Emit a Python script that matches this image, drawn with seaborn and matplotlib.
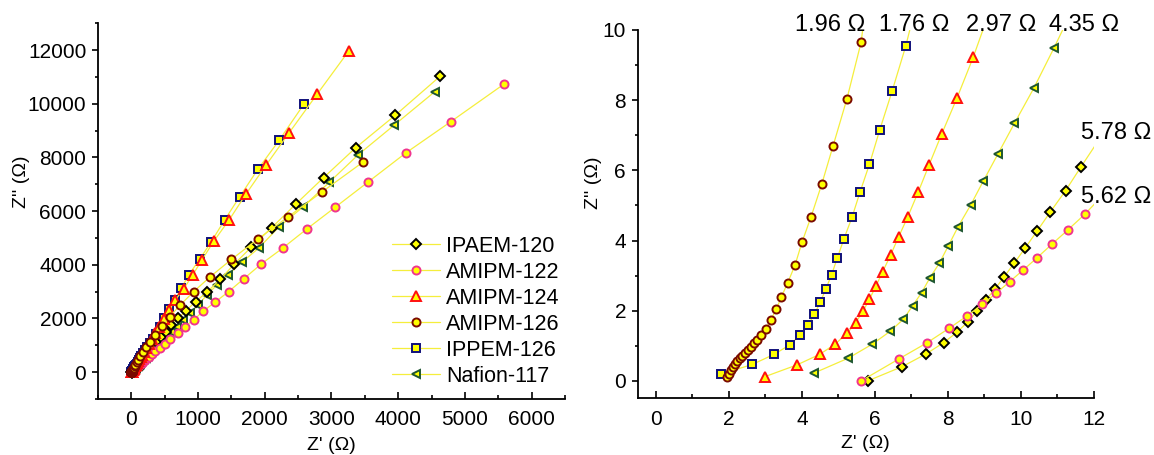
import matplotlib
matplotlib.use('Agg')
import matplotlib.pyplot as plt
from matplotlib.ticker import MultipleLocator
import pandas as pd
import seaborn as sns

# sample names (legend order)
samples = ['IPAEM-120', 'AMIPM-122', 'AMIPM-124', 'AMIPM-126', 'IPPEM-126', 'Nafion-117']
# intercept resistances shown in the zoomed panel
r_ohm = [5.78, 5.62, 2.97, 1.96, 1.76, 4.35]

# high frequency part (right panel)
ipaem120_re_hf = [5.80, 6.75, 7.40, 7.88, 8.25, 8.55, 8.79, 9.04, 9.29, 9.54, 9.81, 10.11, 10.44, 10.80, 11.22, 11.65]
ipaem120_im_hf = [0.00, 0.41, 0.77, 1.09, 1.39, 1.69, 1.98, 2.31, 2.62, 2.97, 3.35, 3.78, 4.27, 4.81, 5.42, 6.11]
amipm122_re_hf = [5.62, 6.66, 7.43, 8.03, 8.52, 8.94, 9.32, 9.69, 10.06, 10.44, 10.84, 11.28, 11.75]
amipm122_im_hf = [0.00, 0.63, 1.09, 1.50, 1.85, 2.18, 2.50, 2.83, 3.16, 3.51, 3.89, 4.30, 4.75]
amipm124_re_hf = [2.98, 3.87, 4.49, 4.91, 5.24, 5.47, 5.67, 5.85, 6.03, 6.21, 6.43, 6.65, 6.90, 7.18, 7.48, 7.83, 8.25, 8.69]
amipm124_im_hf = [0.12, 0.46, 0.76, 1.05, 1.36, 1.66, 1.98, 2.33, 2.71, 3.11, 3.59, 4.11, 4.68, 5.37, 6.15, 7.04, 8.07, 9.22]
amipm126_re_hf = [1.95, 2.00, 2.06, 2.11, 2.17, 2.23, 2.30, 2.37, 2.44, 2.52, 2.60, 2.69, 2.78, 2.89, 3.02,
                  3.15, 3.30, 3.43, 3.61, 3.81, 4.00, 4.25, 4.54, 4.85, 5.23, 5.62]
amipm126_im_hf = [0.11, 0.21, 0.31, 0.40, 0.49, 0.56, 0.64, 0.72, 0.80, 0.89, 0.98, 1.07, 1.17, 1.30, 1.49,
                  1.75, 2.04, 2.38, 2.80, 3.30, 3.95, 4.68, 5.60, 6.69, 8.03, 9.65]
ippem126_re_hf = [1.77, 2.64, 3.24, 3.67, 3.95, 4.17, 4.34, 4.50, 4.65, 4.81, 4.97, 5.15, 5.37, 5.59, 5.85, 6.13, 6.47, 6.84]
ippem126_im_hf = [0.19, 0.47, 0.76, 1.03, 1.31, 1.60, 1.90, 2.24, 2.61, 3.02, 3.51, 4.05, 4.66, 5.38, 6.18, 7.15, 8.26, 9.53]
nafion117_re_hf = [4.32, 5.27, 5.93, 6.41, 6.78, 7.03, 7.28, 7.50, 7.76, 8.01, 8.28, 8.62, 8.97, 9.37, 9.82, 10.35, 10.90]
nafion117_im_hf = [0.22, 0.65, 1.05, 1.41, 1.76, 2.14, 2.52, 2.93, 3.35, 3.85, 4.40, 5.01, 5.70, 6.47, 7.34, 8.34, 9.48]

# low frequency part (left panel)
ipaem120_re_lf = [12.6, 14, 16.5, 19.5, 23, 27, 32, 38, 45, 53, 63, 75, 88, 103, 122, 143, 168, 198, 232, 272,
                  320, 375, 440, 515, 600, 700, 819, 965, 1140, 1334, 1540, 1800, 2106, 2464, 2882, 3366, 3959, 4630]
ipaem120_im_lf = [7.6, 12, 22, 36, 51, 68, 88, 110, 136, 166, 200, 238, 280, 328, 385, 450, 525, 612, 712, 830,
                  965, 1120, 1300, 1510, 1740, 2000, 2293, 2630, 3000, 3462, 4020, 4665, 5390, 6260, 7250, 8370, 9580, 11032]
amipm122_re_lf = [12.7, 14, 16, 18.5, 22, 26, 31, 37, 44, 52, 61, 72, 85, 100, 117, 138, 162, 190, 223, 262,
                  308, 362, 425, 500, 585, 695, 799, 934, 1078, 1254, 1458, 1683, 1948, 2266, 2630, 3055, 3554, 4118, 4786, 5585]
amipm122_im_lf = [5.8, 8, 13, 20, 30, 42, 56, 72, 90, 111, 135, 162, 190, 222, 260, 304, 355, 414, 484, 565,
                  660, 770, 900, 1050, 1229, 1452, 1698, 1947, 2275, 2606, 3001, 3474, 4032, 4617, 5335, 6143, 7096, 8176, 9330, 10733]
amipm124_re_lf = [10.5, 13, 17, 22, 29, 37, 46, 56, 68, 82, 100, 117, 138, 162, 190, 222, 260, 304, 355, 415,
                  485, 565, 660, 784, 919, 1058, 1233, 1469, 1719, 2017, 2368, 2782, 3261]
amipm124_im_lf = [14.5, 24, 40, 62, 92, 128, 170, 215, 268, 330, 404, 475, 558, 655, 768, 900, 1055, 1235, 1445, 1690,
                  1970, 2300, 2692, 3100, 3620, 4181, 4870, 5683, 6639, 7706, 8930, 10350, 11975]
amipm126_re_lf = [7, 9, 12, 16, 21, 28, 37, 48, 62, 80, 104, 135, 175, 226, 286, 360, 460, 575, 735, 934,
                  1180, 1500, 1892, 2341, 2860, 3479]
amipm126_im_lf = [21, 34, 52, 72, 97, 130, 172, 222, 285, 365, 470, 600, 767, 953, 1139, 1389, 1724, 2070, 2506, 3001,
                  3550, 4200, 4952, 5771, 6720, 7841]
ippem126_re_lf = [7.8, 9.6, 12, 15, 19, 24, 30, 37, 45, 54, 65, 78, 93, 110, 130, 152, 178, 207, 240, 278,
                  320, 370, 425, 485, 560, 650, 750, 859, 1024, 1199, 1398, 1625, 1896, 2218, 2590]
ippem126_im_lf = [13.5, 20, 30, 44, 62, 84, 110, 140, 175, 214, 258, 310, 368, 435, 512, 598, 700, 812, 940, 1085,
                  1250, 1440, 1698, 2010, 2346, 2692, 3127, 3622, 4207, 4862, 5670, 6540, 7557, 8649, 10000]
nafion117_re_lf = [13, 15.5, 19, 23, 28, 34, 40, 47, 55, 64, 74, 85, 98, 112, 128, 146, 166, 189, 215, 245,
                   279, 317, 360, 410, 465, 528, 600, 680, 775, 880, 1000, 1133, 1283, 1448, 1657, 1907, 2207, 2566,
                   2966, 3404, 3937, 4547]
nafion117_im_lf = [14, 21, 30, 42, 56, 74, 93, 116, 140, 160, 185, 213, 245, 280, 320, 365, 415, 473, 538, 612,
                   697, 793, 900, 1025, 1160, 1320, 1500, 1700, 1935, 2200, 2500, 2878, 3250, 3622, 4095, 4617, 5398, 6143,
                   7074, 8110, 9200, 10449]

re_all = [ipaem120_re_hf + ipaem120_re_lf, amipm122_re_hf + amipm122_re_lf, amipm124_re_hf + amipm124_re_lf,
          amipm126_re_hf + amipm126_re_lf, ippem126_re_hf + ippem126_re_lf, nafion117_re_hf + nafion117_re_lf]
im_all = [ipaem120_im_hf + ipaem120_im_lf, amipm122_im_hf + amipm122_im_lf, amipm124_im_hf + amipm124_im_lf,
          amipm126_im_hf + amipm126_im_lf, ippem126_im_hf + ippem126_im_lf, nafion117_im_hf + nafion117_im_lf]

rows = []
for name, xs, ys in zip(samples, re_all, im_all):
    for i, (a, b) in enumerate(zip(xs, ys)):
        rows.append((name, i, a, b))
df = pd.DataFrame(rows, columns=['sample', 'idx', 'zre', 'zim'])

sns.set_style('ticks')
plt.rcParams['font.family'] = ['Liberation Sans', 'DejaVu Sans']
for key in ('text.color', 'axes.labelcolor', 'xtick.color', 'ytick.color', 'axes.edgecolor'):
    plt.rcParams[key] = 'black'

line_color = '#F5EE3C'
face = '#FFFF00'
edges = {'IPAEM-120': '#000000', 'AMIPM-122': '#F0358F', 'AMIPM-124': '#FF1010',
         'AMIPM-126': '#7A0A00', 'IPPEM-126': '#10107A', 'Nafion-117': '#1E5631'}
markers = {'IPAEM-120': 'D', 'AMIPM-122': 'o', 'AMIPM-124': '^',
           'AMIPM-126': 'o', 'IPPEM-126': 's', 'Nafion-117': '<'}
msize = {'IPAEM-120': 5.4, 'AMIPM-122': 5.8, 'AMIPM-124': 6.6,
         'AMIPM-126': 5.8, 'IPPEM-126': 5.2, 'Nafion-117': 6.2}
draw_order = ['Nafion-117', 'IPPEM-126', 'IPAEM-120', 'AMIPM-122', 'AMIPM-124', 'AMIPM-126']

fig = plt.figure(figsize=(11.54, 4.55), dpi=100)
ax1 = fig.add_axes([0.0849, 0.1231, 0.4047, 0.8257])
ax2 = fig.add_axes([0.5526, 0.1242, 0.3954, 0.8099])

for ax in (ax1, ax2):
    for name in draw_order:
        sub = df[df['sample'] == name]
        sns.lineplot(data=sub, x='zre', y='zim', ax=ax, sort=False, estimator=None,
                     color=line_color, linewidth=0.9, marker=markers[name],
                     markersize=msize[name], markerfacecolor=face,
                     markeredgecolor=edges[name], markeredgewidth=1.4, legend=False)

# legend in the sample order
handle_of = dict(zip(draw_order, ax1.lines[:len(draw_order)]))
ax1.legend([handle_of[n] for n in samples], samples, loc='upper left', bbox_to_anchor=(0.63, 0.435),
           frameon=False, borderaxespad=0, borderpad=0, handlelength=2.2, handletextpad=0.3,
           labelspacing=0.235, fontsize=15.5)

ax1.set_xlim(-500, 6500)
ax1.set_ylim(-1000, 13000)
ax1.xaxis.set_major_locator(MultipleLocator(1000))
ax1.xaxis.set_minor_locator(MultipleLocator(500))
ax1.yaxis.set_major_locator(MultipleLocator(2000))
ax1.yaxis.set_minor_locator(MultipleLocator(1000))

ax2.set_xlim(-0.5, 12)
ax2.set_ylim(-0.5, 10)
ax2.xaxis.set_major_locator(MultipleLocator(2))
ax2.xaxis.set_minor_locator(MultipleLocator(1))
ax2.yaxis.set_major_locator(MultipleLocator(2))
ax2.yaxis.set_minor_locator(MultipleLocator(1))

for ax in (ax1, ax2):
    sns.despine(ax=ax)
    for s in ('left', 'bottom'):
        ax.spines[s].set_linewidth(1.3)
    ax.tick_params(axis='x', which='both', direction='in', width=1.2)
    ax.tick_params(axis='x', which='major', length=5.4, pad=8, labelsize=15)
    ax.tick_params(axis='x', which='minor', length=2.6)
    ax.tick_params(axis='y', which='both', direction='out', width=1.2)
    ax.tick_params(axis='y', which='major', length=4.1, pad=4.3, labelsize=15)
    ax.tick_params(axis='y', which='minor', length=2.0)
    ax.set_xlabel("Z' (Ω)", fontsize=14)
    ax.set_ylabel("Z'' (Ω)", fontsize=14)
    ax.xaxis.set_label_coords(0.5, -0.1)

ax1.yaxis.set_label_coords(-0.146, 0.578)
ax2.yaxis.set_label_coords(-0.078, 0.585)

# intercept labels on the zoomed panel
label_x = [12.6, 12.6, 9.45, 4.77, 7.07, 11.73]
label_y = [7.07, 5.24, 10.14, 10.14, 10.14, 10.14]
for r, lx, ly in zip(r_ohm, label_x, label_y):
    ax2.text(lx, ly, f'{r:.2f} Ω', ha='center', va='center', fontsize=17, clip_on=False)

fig.savefig('out.png', dpi=100)
